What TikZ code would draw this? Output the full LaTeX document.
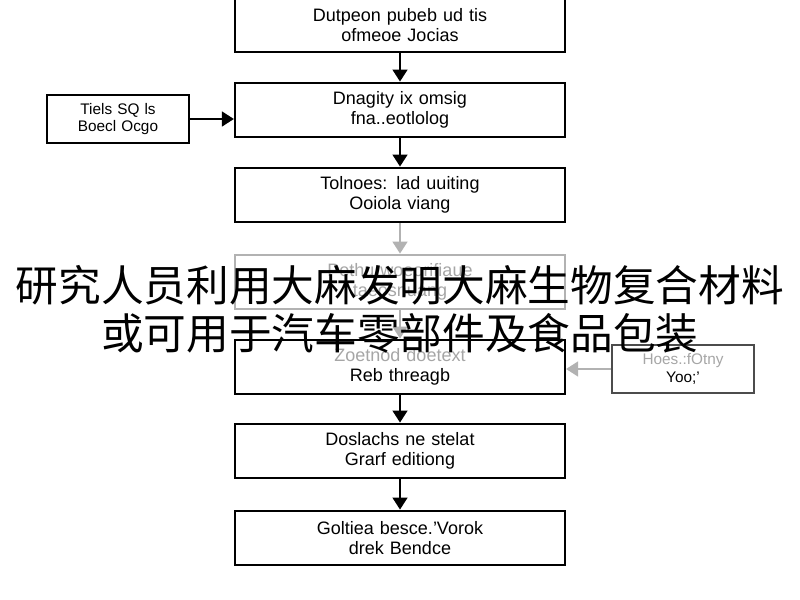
\documentclass[tikz,border=0pt]{standalone}
\usepackage{fontspec}
\setmainfont{Liberation Sans}
\newfontfamily\cjk{Noto Sans CJK SC}
\usetikzlibrary{positioning,arrows.meta}
\tikzset{
    every node/.style={
        font=\fontsize{13.5}{15.5}\selectfont
    },
    step box/.style={
        rectangle, draw, line width=1.6pt,
        minimum width=247.5pt, minimum height=41pt,
        text width=230pt, align=center
    },
    side box/.style={
        rectangle, draw, line width=1.4pt,
        minimum width=106pt, minimum height=36pt,
        text width=100pt, align=center, font=\fontsize{11.5}{13}\selectfont
    },
    faded/.style={draw=black!30, text=black!35},
    flow/.style={-{Triangle[length=9pt,width=11pt]}, line width=1.8pt},
    caption/.style={font=\cjk\fontsize{32}{36}\selectfont, align=center}
}
\begin{document}
\begin{tikzpicture}[x=0.75pt, y=-0.75pt]
    \useasboundingbox (0,0) rectangle (800,600);
    \fill[white] (0,0) rectangle (800,600);

    \node (s1) at (400,25) [step box] {Dutpeon pubeb ud tis\\ ofmeoe Jocias};
    \node (s2) at (400,110) [step box] {Dnagity ix omsig\\ fna..eotlolog};
    \node (s3) at (400,195) [step box] {Tolnoes: lad uuiting\\ Ooiola viang};
    \node (s4) at (400,282) [step box, faded] {Pethu woeorifiaue\\ taeosnuang};
    \node (s5) at (400,367) [step box] {\textcolor{black!35}{Zoetnod doetext}\\ Reb threagb};
    \node (s6) at (400,451) [step box] {Doslachs ne stelat\\ Grarf editiong};
    \node (s7) at (400,538) [step box] {Goltiea besce.'Vorok\\ drek Bendce};

    \node (ls) at (118,119) [side box] {Tiels SQ ls\\ Boecl Ocgo};
    \node (rs) at (683,369) [side box, draw=black!70] {\textcolor{black!35}{Hoes.:fOtny}\\ Yoo;'};

    \draw [flow] (s1) -- (s2);
    \draw [flow] (s2) -- (s3);
    \draw [flow, draw=black!30, fill=black!30] (s3) -- (s4);
    \draw [flow, draw=black!30, fill=black!30] (s4) -- (s5);
    \draw [flow] (s5) -- (s6);
    \draw [flow] (s6) -- (s7);
    \draw [flow] (ls.east) -- (ls.east -| s2.west);
    \draw [flow, draw=black!30, fill=black!30] (rs.west) -- (rs.west -| s5.east);

    \node (cap) at (400,309) [caption] {研究人员利用大麻发明大麻生物复合材料\\或可用于汽车零部件及食品包装};
\end{tikzpicture}
\end{document}
